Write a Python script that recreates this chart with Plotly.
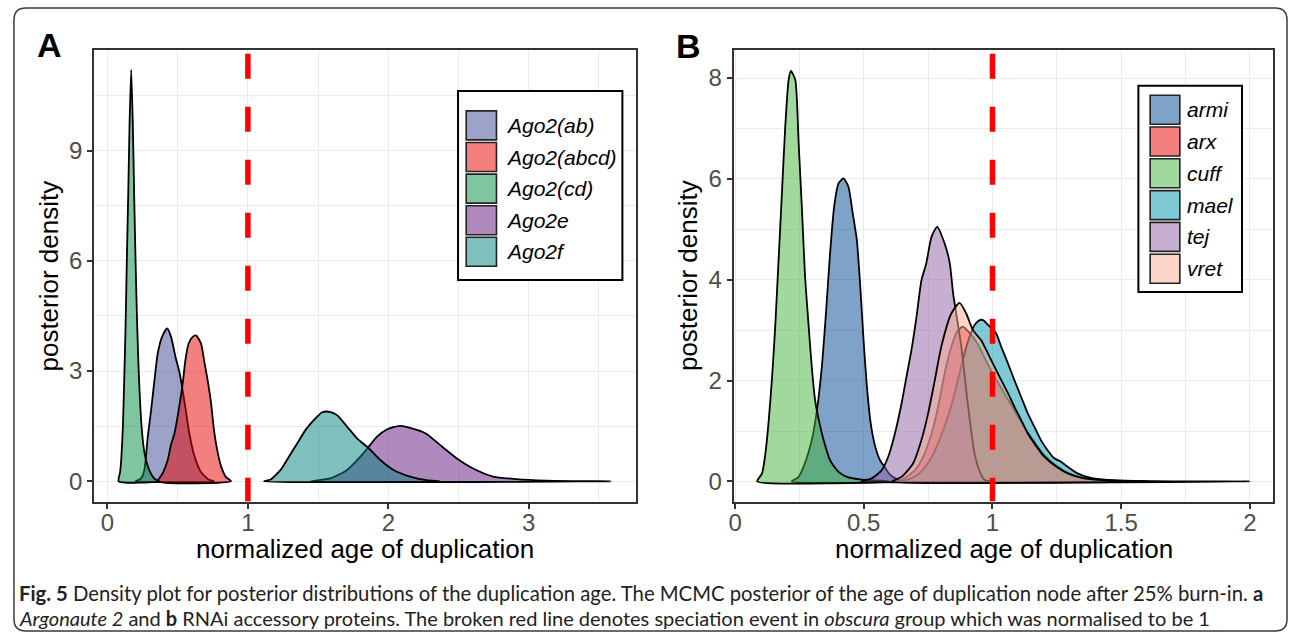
import plotly.graph_objects as go

# ---------------- data ----------------
# Panel A : Argonaute 2 paralogs
a_names = ["Ago2(ab)", "Ago2(abcd)", "Ago2(cd)", "Ago2e", "Ago2f"]
a_colors = ["rgb(59,71,145)", "rgb(233,0,0)", "rgb(0,139,65)", "rgb(97,21,125)", "rgb(0,127,123)"]

ago2_ab_x = [0.20, 0.23, 0.25, 0.264, 0.276, 0.287, 0.311, 0.335, 0.358, 0.389, 0.425, 0.453, 0.484, 0.512, 0.53, 0.555, 0.583, 0.618, 0.666, 0.72, 0.76]
ago2_ab_y = [0.0, 0.05, 0.15, 0.33, 0.76, 1.21, 1.94, 2.76, 3.48, 3.93, 4.16, 3.93, 3.39, 2.98, 2.6, 2.0, 1.3, 0.7, 0.25, 0.05, 0.0]

ago2_abcd_x = [0.36, 0.394, 0.429, 0.453, 0.477, 0.512, 0.536, 0.555, 0.578, 0.607, 0.63, 0.666, 0.689, 0.713, 0.737, 0.76, 0.784, 0.808, 0.843, 0.88]
ago2_abcd_y = [0.0, 0.22, 0.58, 1.0, 1.3, 2.05, 2.67, 3.3, 3.75, 3.93, 3.97, 3.75, 3.27, 2.76, 2.15, 1.35, 0.8, 0.42, 0.12, 0.0]

ago2_cd_x = [0.08, 0.09, 0.098, 0.11, 0.12, 0.129, 0.138, 0.148, 0.157, 0.169, 0.181, 0.19, 0.20, 0.212, 0.224, 0.243, 0.264, 0.299, 0.335, 0.37]
ago2_cd_y = [0.0, 0.25, 0.58, 1.49, 2.85, 4.21, 6.02, 7.83, 9.65, 11.2, 9.65, 7.83, 6.02, 4.21, 2.85, 1.49, 0.76, 0.29, 0.07, 0.0]

ago2e_x = [1.446, 1.588, 1.706, 1.801, 1.86, 1.918, 1.989, 2.084, 2.202, 2.273, 2.368, 2.486, 2.604, 2.746, 2.911, 3.124, 3.4, 3.585]
ago2e_y = [0.0, 0.08, 0.31, 0.67, 0.94, 1.21, 1.41, 1.51, 1.40, 1.29, 0.99, 0.63, 0.35, 0.13, 0.06, 0.02, 0.005, 0.0]

ago2f_x = [1.115, 1.162, 1.233, 1.292, 1.351, 1.411, 1.481, 1.529, 1.583, 1.635, 1.706, 1.777, 1.86, 1.943, 2.037, 2.155, 2.273, 2.37]
ago2f_y = [0.0, 0.05, 0.31, 0.67, 1.03, 1.40, 1.71, 1.88, 1.89, 1.80, 1.49, 1.17, 0.90, 0.58, 0.31, 0.13, 0.03, 0.0]

# Panel B : RNAi accessory proteins
b_names = ["armi", "arx", "cuff", "mael", "tej", "vret"]
b_colors = ["rgb(0,69,145)", "rgb(233,0,0)", "rgb(65,179,55)", "rgb(0,151,171)", "rgb(143,95,163)", "rgb(249,171,145)"]

armi_x = [0.22, 0.245, 0.266, 0.298, 0.318, 0.337, 0.354, 0.369, 0.385, 0.402, 0.421, 0.44, 0.457, 0.473, 0.486, 0.498, 0.511, 0.527, 0.543, 0.563, 0.582, 0.601, 0.627, 0.66]
armi_y = [0.0, 0.08, 0.29, 0.82, 1.41, 2.27, 3.4, 4.52, 5.45, 5.91, 6.01, 5.85, 5.32, 4.79, 3.9, 2.9, 1.95, 1.15, 0.72, 0.42, 0.28, 0.14, 0.05, 0.0]

arx_x = [0.62, 0.647, 0.698, 0.731, 0.763, 0.789, 0.814, 0.84, 0.866, 0.885, 0.91, 0.94, 0.97, 1.0, 1.04, 1.08, 1.12, 1.16, 1.2, 1.25, 1.3, 1.36, 1.45, 1.6]
arx_y = [0.0, 0.03, 0.22, 0.49, 0.95, 1.48, 2.14, 2.67, 3.0, 3.07, 2.95, 2.75, 2.45, 2.15, 1.8, 1.45, 1.1, 0.8, 0.52, 0.3, 0.15, 0.06, 0.02, 0.0]

cuff_x = [0.086, 0.105, 0.118, 0.131, 0.144, 0.156, 0.169, 0.182, 0.195, 0.208, 0.217, 0.234, 0.247, 0.26, 0.272, 0.286, 0.298, 0.311, 0.324, 0.344, 0.369, 0.402, 0.434, 0.485, 0.54, 0.6]
cuff_y = [0.0, 0.16, 0.56, 1.22, 2.08, 3.07, 4.39, 5.71, 7.04, 7.96, 8.14, 7.96, 6.71, 5.38, 4.06, 3.07, 2.27, 1.61, 1.25, 0.82, 0.42, 0.19, 0.09, 0.04, 0.02, 0.0]

mael_x = [0.64, 0.68, 0.72, 0.76, 0.80, 0.84, 0.87, 0.90, 0.93, 0.95, 0.963, 0.98, 0.995, 1.014, 1.034, 1.06, 1.085, 1.111, 1.137, 1.163, 1.188, 1.214, 1.24, 1.266, 1.292, 1.33, 1.382, 1.447, 1.55, 1.7, 2.0]
mael_y = [0.0, 0.05, 0.18, 0.45, 0.9, 1.5, 2.1, 2.7, 3.1, 3.2, 3.2, 3.12, 3.04, 2.94, 2.67, 2.34, 2.01, 1.68, 1.35, 1.08, 0.82, 0.62, 0.46, 0.39, 0.29, 0.16, 0.07, 0.03, 0.01, 0.003, 0.0]

tej_x = [0.49, 0.531, 0.569, 0.595, 0.621, 0.647, 0.666, 0.685, 0.705, 0.724, 0.743, 0.763, 0.785, 0.814, 0.834, 0.847, 0.86, 0.879, 0.905, 0.93, 0.95, 0.969, 0.99]
tej_y = [0.0, 0.06, 0.22, 0.49, 0.95, 1.55, 2.08, 2.6, 3.27, 3.99, 4.33, 4.85, 5.05, 4.72, 4.33, 3.73, 3.3, 2.67, 1.5, 0.56, 0.2, 0.03, 0.0]

vret_x = [0.61, 0.647, 0.692, 0.724, 0.75, 0.776, 0.801, 0.84, 0.872, 0.898, 0.924, 0.956, 0.982, 1.008, 1.034, 1.06, 1.085, 1.111, 1.137, 1.163, 1.201, 1.24, 1.292, 1.356, 1.44, 1.6]
vret_y = [0.0, 0.09, 0.36, 0.82, 1.35, 2.01, 2.67, 3.33, 3.54, 3.33, 3.0, 2.8, 2.54, 2.27, 2.01, 1.75, 1.48, 1.22, 0.95, 0.75, 0.49, 0.32, 0.16, 0.06, 0.02, 0.0]

speciation_x = 1.0

a_xticks = [0, 1, 2, 3]
a_yticks = [0, 3, 6, 9]
b_xticks = [0, 0.5, 1, 1.5, 2]
b_yticks = [0, 2, 4, 6, 8]

caption_1 = ("<b>Fig. 5</b> Density plot for posterior distributions of the duplication age. "
             "The MCMC posterior of the age of duplication node after 25% burn-in. <b>a</b>")
caption_2 = ("<i>Argonaute 2</i> and <b>b</b> RNAi accessory proteins. The broken red line denotes "
             "speciation event in <i>obscura</i> group which was normalised to be 1")

# ---------------- layout helpers ----------------
W, H = 1290, 634
ALPHA = 0.5


def px(x):
    return x / W


def py(y):
    return 1 - y / H


def rgba(c, a=ALPHA):
    return c.replace("rgb(", "rgba(").replace(")", f",{a})")


FONT = "Liberation Sans, Arial, Helvetica, sans-serif"

fig = go.Figure()

a_series = [(ago2_ab_x, ago2_ab_y), (ago2_abcd_x, ago2_abcd_y), (ago2_cd_x, ago2_cd_y),
            (ago2e_x, ago2e_y), (ago2f_x, ago2f_y)]
b_series = [(armi_x, armi_y), (arx_x, arx_y), (cuff_x, cuff_y), (mael_x, mael_y),
            (tej_x, tej_y), (vret_x, vret_y)]

for (xs, ys), name, col in zip(a_series, a_names, a_colors):
    fig.add_trace(go.Scatter(x=list(xs) + [xs[0]], y=list(ys) + [0.0], mode="lines",
                             fill="toself", fillcolor=rgba(col), name=name,
                             line=dict(color="black", width=1.8, shape="spline", smoothing=0.6),
                             showlegend=False, hoverinfo="skip", xaxis="x", yaxis="y"))

for (xs, ys), name, col in zip(b_series, b_names, b_colors):
    fig.add_trace(go.Scatter(x=list(xs) + [xs[0]], y=list(ys) + [0.0], mode="lines",
                             fill="toself", fillcolor=rgba(col), name=name,
                             line=dict(color="black", width=1.8, shape="spline", smoothing=0.6),
                             showlegend=False, hoverinfo="skip", xaxis="x2", yaxis="y2"))

# panel geometry (pixels)
A_L, A_R = 89.6, 633.1
B_L, B_R = 731.6, 1273.3
P_T, P_B = 49.8, 501.6

a_xr = [-0.094, 3.761]
a_yr = [-0.552, 11.74]
b_xr = [-0.005, 2.091]
b_yr = [-0.40, 8.56]

grid_col = "#EBEBEB"
axis_common = dict(showline=True, mirror=True, linecolor="#333333", linewidth=2,
                   ticks="outside", ticklen=5, tickwidth=1.5, tickcolor="#333333",
                   showgrid=True, gridcolor=grid_col, gridwidth=1.4, zeroline=False,
                   tickfont=dict(family=FONT, size=24, color="#4D4D4D"))

xminor = dict(showgrid=True, gridcolor=grid_col, gridwidth=0.7, ticks="")

fig.update_layout(
    width=W, height=H,
    margin=dict(l=0, r=0, t=0, b=0),
    paper_bgcolor="white", plot_bgcolor="white",
    showlegend=False,
    xaxis=dict(domain=[px(A_L), px(A_R)], range=a_xr, tickvals=a_xticks, anchor="y",
               minor=dict(dtick=0.5, **xminor), ticklabelstandoff=-6, **axis_common),
    yaxis=dict(domain=[py(P_B), py(P_T)], range=a_yr, tickvals=a_yticks, anchor="x",
               minor=dict(dtick=1.5, **xminor), **axis_common),
    xaxis2=dict(domain=[px(B_L), px(B_R)], range=b_xr, tickvals=b_xticks, anchor="y2",
                minor=dict(dtick=0.25, **xminor), ticklabelstandoff=-6, **axis_common),
    yaxis2=dict(domain=[py(P_B), py(P_T)], range=b_yr, tickvals=b_yticks, anchor="x2",
                minor=dict(dtick=1, **xminor), **axis_common),
)

shapes = []
annotations = []

# red broken speciation lines
a_unit = (P_B - P_T) / (a_yr[1] - a_yr[0])
b_unit = (P_B - P_T) / (b_yr[1] - b_yr[0])
shapes.append(dict(type="line", xref="x", yref="y", x0=speciation_x, x1=speciation_x,
                   y0=a_yr[1] - 4 / a_unit, y1=a_yr[0], layer="above",
                   line=dict(color="#FF0000", width=5.5, dash="25px,28px")))
shapes.append(dict(type="line", xref="x2", yref="y2", x0=speciation_x, x1=speciation_x,
                   y0=b_yr[1] - 4 / b_unit, y1=b_yr[0], layer="above",
                   line=dict(color="#FF0000", width=5.5, dash="25px,28px")))


def legend(box, sw_x, first_top, pitch, text_x, names, colors):
    x0, y0, x1, y1 = box
    shapes.append(dict(type="rect", xref="paper", yref="paper", x0=px(x0), x1=px(x1),
                       y0=py(y1), y1=py(y0), fillcolor="white",
                       line=dict(color="black", width=2), layer="above"))
    for i, (n, c) in enumerate(zip(names, colors)):
        t = first_top + i * pitch
        shapes.append(dict(type="rect", xref="paper", yref="paper", x0=px(sw_x[0]), x1=px(sw_x[1]),
                           y0=py(t + 29), y1=py(t), fillcolor=rgba(c),
                           line=dict(color="#222222", width=1.6), layer="above"))
        annotations.append(dict(xref="paper", yref="paper", x=px(text_x), y=py(t + 14.5),
                                xanchor="left", yanchor="middle", showarrow=False,
                                text=f"<i>{n}</i>", font=dict(family=FONT, size=21, color="black")))


legend((454.8, 90.9, 619.8, 279.9), (463.0, 493.4), 110.9, 31.6, 500.5, a_names, a_colors)
legend((1137.8, 85.8, 1241.8, 291.9), (1149.6, 1179.4), 95.2, 31.8, 1184.5, b_names, b_colors)

# axis titles
for cx in [(A_L + A_R) / 2, (B_L + B_R) / 2]:
    annotations.append(dict(xref="paper", yref="paper", x=px(cx), y=py(549), xanchor="center",
                            yanchor="middle", showarrow=False, text="normalized age of duplication",
                            font=dict(family=FONT, size=26, color="black")))
for cx in [44.0, 685.0]:
    annotations.append(dict(xref="paper", yref="paper", x=px(cx), y=py((P_T + P_B) / 2),
                            xanchor="center", yanchor="middle", showarrow=False, textangle=-90,
                            text="posterior density", font=dict(family=FONT, size=26, color="black")))

# panel letters
annotations.append(dict(xref="paper", yref="paper", x=px(44.5), y=py(45), xanchor="center",
                        yanchor="middle", showarrow=False, text="<b>A</b>",
                        font=dict(family=FONT, size=34, color="black")))
annotations.append(dict(xref="paper", yref="paper", x=px(686.0), y=py(46), xanchor="center",
                        yanchor="middle", showarrow=False, text="<b>B</b>",
                        font=dict(family=FONT, size=34, color="black")))

# caption
CAP_FONT = "Lato, Liberation Sans, sans-serif"
annotations.append(dict(xref="paper", yref="paper", x=px(12), y=py(593), xanchor="left",
                        yanchor="middle", showarrow=False, text=caption_1, align="left",
                        font=dict(family=CAP_FONT, size=20.3, color="#222222")))
annotations.append(dict(xref="paper", yref="paper", x=px(12), y=py(618), xanchor="left",
                        yanchor="middle", showarrow=False, text=caption_2, align="left",
                        font=dict(family=CAP_FONT, size=20.0, color="#222222")))

# outer rounded frame
fx0, fy0, fx1, fy1, r = 9, 8, 1287, 631, 12
path = (f"M {px(fx0 + r)},{py(fy0)} L {px(fx1 - r)},{py(fy0)} Q {px(fx1)},{py(fy0)} {px(fx1)},{py(fy0 + r)} "
        f"L {px(fx1)},{py(fy1 - r)} Q {px(fx1)},{py(fy1)} {px(fx1 - r)},{py(fy1)} "
        f"L {px(fx0 + r)},{py(fy1)} Q {px(fx0)},{py(fy1)} {px(fx0)},{py(fy1 - r)} "
        f"L {px(fx0)},{py(fy0 + r)} Q {px(fx0)},{py(fy0)} {px(fx0 + r)},{py(fy0)} Z")
shapes.append(dict(type="path", xref="paper", yref="paper", path=path,
                   line=dict(color="#3A3A3A", width=1.5), layer="below"))

fig.update_layout(shapes=shapes, annotations=annotations)
fig.write_html("out.html", config={"displayModeBar": False},
               post_script="document.body.style.margin='0';document.body.style.padding='0';"
                           "document.body.style.overflow='hidden';")
